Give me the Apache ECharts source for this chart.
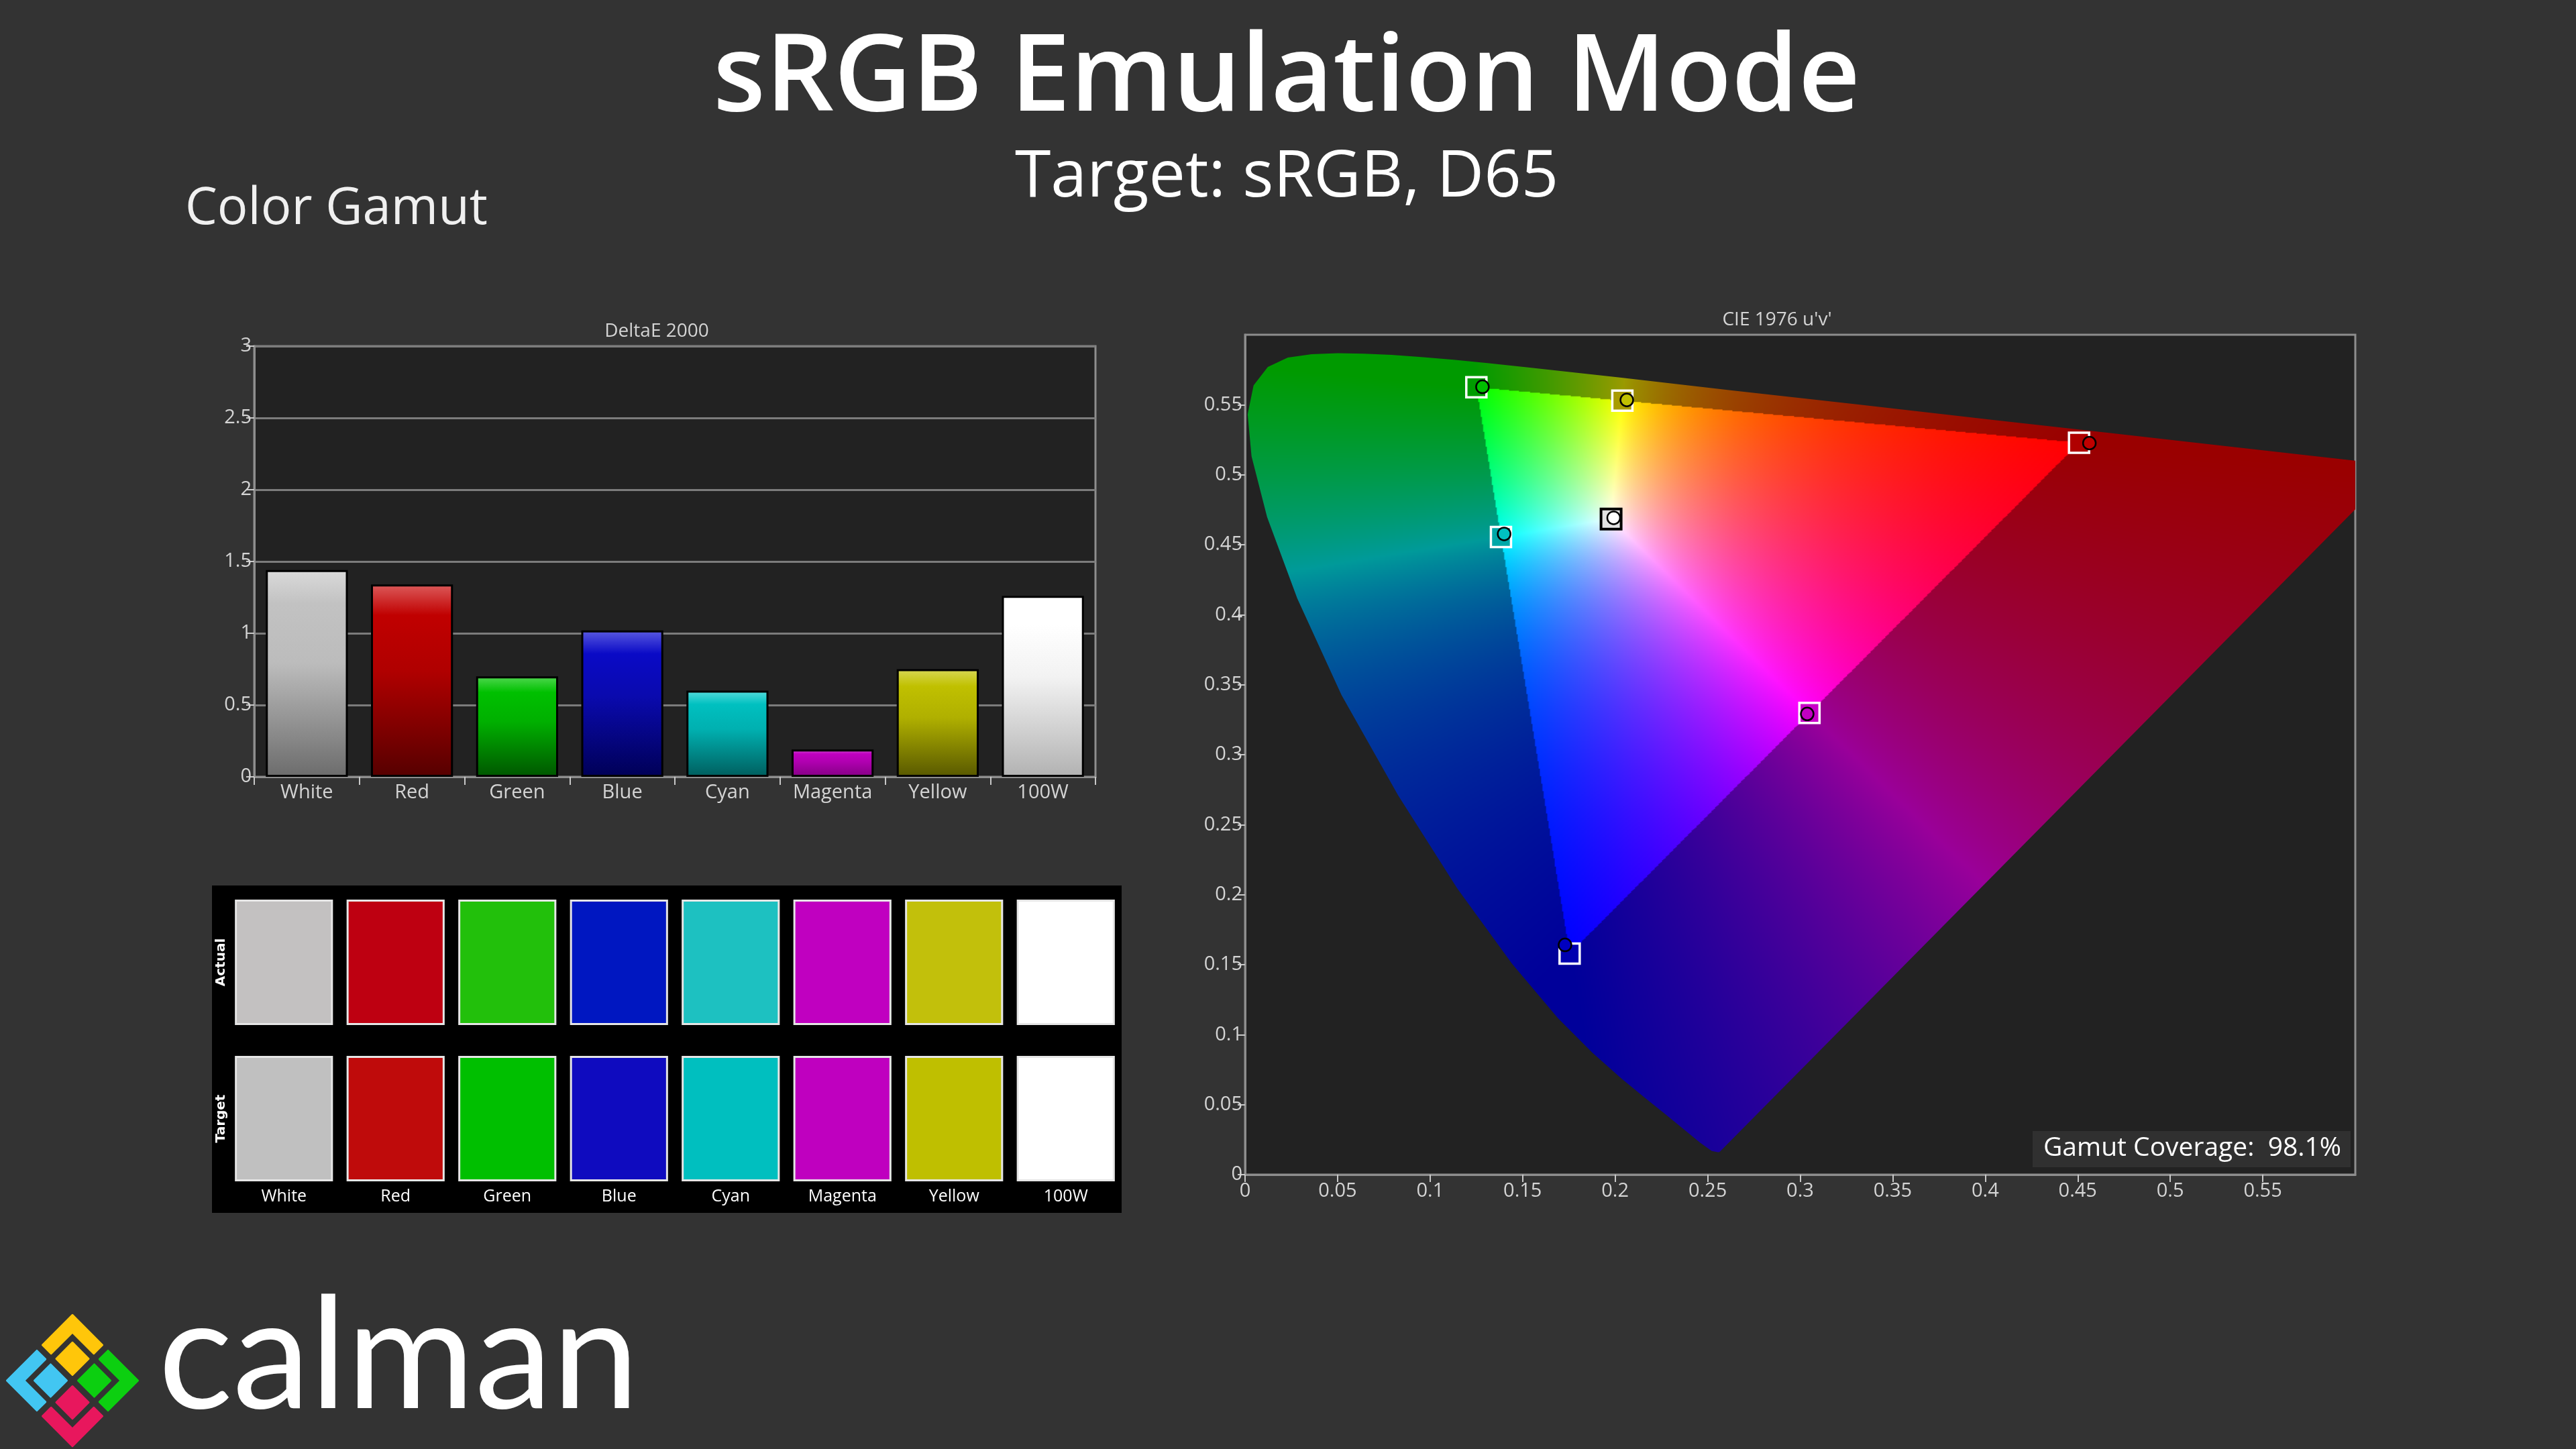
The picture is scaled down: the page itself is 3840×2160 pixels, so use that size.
<!DOCTYPE html>
<html>
<head>
<meta charset="utf-8">
<script src="https://cdn.jsdelivr.net/npm/echarts@6/dist/echarts.min.js"></script>
<style>
  html, body { margin: 0; padding: 0; background: #333333; }
  #chart { width: 3840px; height: 2160px; }
</style>
</head>
<body>
<div id="chart"></div>
<script>
// ---- data ----
const categories = ['White', 'Red', 'Green', 'Blue', 'Cyan', 'Magenta', 'Yellow', '100W'];
const deltaE = [1.44, 1.34, 0.70, 1.02, 0.60, 0.19, 0.75, 1.26];

const swatchRows = ['Target', 'Actual'];
const actualColors = ['#c3c1c1', '#be0011', '#22c00b', '#0017c1', '#1dc1c1', '#c000c0', '#c2c00b', '#ffffff'];
const targetColors = ['#c0c0c0', '#bf0b0b', '#00bf00', '#0f0bbf', '#00bfbf', '#bf00bf', '#bfbf00', '#ffffff'];

// CIE 1931 spectral locus in u'v' (380 - 700 nm), closed by the line of purples
const locusU = [0.2568, 0.2563, 0.2554, 0.2522, 0.2461, 0.2347, 0.2266, 0.2161, 0.2033, 0.1877, 0.1690,
  0.1441, 0.1147, 0.0828, 0.0521, 0.0282, 0.0119, 0.0035, 0.0014, 0.0046, 0.0123, 0.0231, 0.0360,
  0.0501, 0.0643, 0.0792, 0.0953, 0.1127, 0.1319, 0.1531, 0.2026, 0.2623, 0.3315, 0.4035, 0.4692,
  0.5203, 0.5565, 0.5830, 0.6005, 0.6234];
const locusV = [0.0166, 0.0160, 0.0160, 0.0169, 0.0226, 0.0350, 0.0437, 0.0549, 0.0688, 0.0871, 0.1119,
  0.1510, 0.2044, 0.2708, 0.3427, 0.4117, 0.4698, 0.5131, 0.5432, 0.5638, 0.5770, 0.5837, 0.5861,
  0.5868, 0.5865, 0.5856, 0.5841, 0.5821, 0.5796, 0.5766, 0.5694, 0.5604, 0.5501, 0.5393, 0.5296,
  0.5219, 0.5165, 0.5125, 0.5099, 0.5065];

// order: Red, Green, Blue, Cyan, Magenta, Yellow
const targetU = [0.4507, 0.1250, 0.1754, 0.1383, 0.3050, 0.2039];
const targetV = [0.5229, 0.5625, 0.1579, 0.4555, 0.3298, 0.5529];
const whiteTarget = [0.1978, 0.4683];
const measuredU = [0.4563, 0.1283, 0.1729, 0.1400, 0.3038, 0.2063, 0.1992];
const measuredV = [0.5226, 0.5628, 0.1641, 0.4577, 0.3291, 0.5534, 0.4692];
const measuredColors = ['#c00000', '#00c000', '#0000c0', '#00c0c0', '#c000c0', '#c0c000', '#ffffff'];
const targetFill = ['#b00000', '#009c00', '#0000b0', '#00a8a8', '#c800c8', '#a89c00'];

const gamutCoverage = 98.1;
const cieMax = 0.6;

// ---- styles ----
const barShades = [
  ['#dadada', '#c2c2c2', '#bcbcbc', '#6c6c6c'],
  ['#dc5a5a', '#c00000', '#b00000', '#560000'],
  ['#50d850', '#00c000', '#00b000', '#005600'],
  ['#5a5ae0', '#0a0ac6', '#0a0aae', '#000056'],
  ['#55dcdc', '#00c0c0', '#00b0b0', '#005e5e'],
  ['#d455d4', '#c000c0', '#b000b0', '#840084'],
  ['#d8d855', '#c0c000', '#b0b000', '#585800'],
  ['#ffffff', '#ffffff', '#f2f2f2', '#b2b2b2']
];
const labelColor = '#d4d4d4';
const axisColor = '#8e8e8e';

// colour field painted behind the horseshoe (u', v' -> sRGB, max-normalised)
const gamutCanvas = (function () {
  const n = 900;
  const cv = document.createElement('canvas');
  cv.width = n; cv.height = n;
  const ctx = cv.getContext('2d');
  const img = ctx.createImageData(n, n);
  for (let j = 0; j < n; j++) {
    const v = cieMax * (1 - (j + 0.5) / n);
    for (let i = 0; i < n; i++) {
      const u = cieMax * (i + 0.5) / n;
      const d = 6 * u - 16 * v + 12;
      const x = 9 * u / d, y = 4 * v / d;
      const X = x / y, Z = (1 - x - y) / y;
      let r = 3.2406 * X - 1.5372 - 0.4986 * Z;
      let g = -0.9689 * X + 1.8758 + 0.0415 * Z;
      let b = 0.0557 * X - 0.2040 + 1.0570 * Z;
      const inside = r >= 0 && g >= 0 && b >= 0;
      r = Math.max(r, 0); g = Math.max(g, 0); b = Math.max(b, 0);
      const m = Math.max(r, g, b) || 1;
      const k = inside ? 255 : 154;
      const o = (j * n + i) * 4;
      img.data[o] = r / m * k;
      img.data[o + 1] = g / m * k;
      img.data[o + 2] = b / m * k;
      img.data[o + 3] = 255;
    }
  }
  ctx.putImageData(img, 0, 0);
  return cv;
})();

// ---- calman logo pieces ----
const logoC = [108, 2058];
function lp(a, b) {
  return [logoC[0] + (a - b) / Math.SQRT2, logoC[1] - (a + b) / Math.SQRT2];
}
const logoParts = [];
[[1, 1, '#ffc60a'], [-1, 1, '#42c6f2'], [1, -1, '#0ccf10'], [-1, -1, '#e8175d']].forEach(function (q) {
  const sa = q[0], sb = q[1], S1 = 69, S2 = 51, c = 6, gc = 23, h = 17;
  const chev = [[S1, S1], [S1, c], [S2, c], [S2, S2], [c, S2], [c, S1]]
    .map(p => lp(p[0] * sa, p[1] * sb));
  const inner = [[gc - h, gc - h], [gc + h, gc - h], [gc + h, gc + h], [gc - h, gc + h]]
    .map(p => lp(p[0] * sa, p[1] * sb));
  logoParts.push({ type: 'polygon', shape: { points: chev }, style: { fill: q[2], stroke: q[2], lineWidth: 3, lineJoin: 'round' }, z: 10 });
  logoParts.push({ type: 'polygon', shape: { points: inner }, style: { fill: q[2], stroke: q[2], lineWidth: 3, lineJoin: 'round' }, z: 10 });
});

const chart = echarts.init(document.getElementById('chart'), null, { width: 3840, height: 2160 });

const tickLabel = function (v) { return String(Math.round(v * 100) / 100); };

const option = {
  backgroundColor: '#333333',
  animation: false,
  textStyle: { fontFamily: 'Open Sans' },
  graphic: [
    { type: 'text', x: 1918, y: 119, z: 10, style: { text: 'sRGB Emulation Mode', fill: '#ffffff', font: '600 160px "Open Sans"', textAlign: 'center', textVerticalAlign: 'middle', align: 'center', verticalAlign: 'middle' } },
    { type: 'text', x: 1918, y: 265, z: 10, style: { text: 'Target: sRGB, D65', fill: '#ffffff', font: '400 97px "Open Sans"', textAlign: 'center', textVerticalAlign: 'middle', align: 'center', verticalAlign: 'middle' } },
    { type: 'text', x: 276, y: 312, z: 10, style: { text: 'Color Gamut', fill: '#f0f0f0', font: '400 76px "Open Sans"', textAlign: 'left', textVerticalAlign: 'middle', align: 'left', verticalAlign: 'middle' } },
    { type: 'text', x: 979, y: 494, z: 10, style: { text: 'DeltaE 2000', fill: labelColor, font: '400 28px "Open Sans"', textAlign: 'center', textVerticalAlign: 'middle', align: 'center', verticalAlign: 'middle' } },
    { type: 'text', x: 2649, y: 477, z: 10, style: { text: "CIE 1976 u'v'", fill: labelColor, font: '400 28px "Open Sans"', textAlign: 'center', textVerticalAlign: 'middle', align: 'center', verticalAlign: 'middle' } },
    { type: 'rect', shape: { x: 316, y: 1320, width: 1356, height: 488 }, style: { fill: '#000000' }, z: 0 },
    { type: 'rect', shape: { x: 3030, y: 1686, width: 474, height: 54 }, style: { fill: '#303030' }, z: 10 },
    { type: 'text', x: 3046, y: 1712, z: 11, style: { text: 'Gamut Coverage:  ' + gamutCoverage.toFixed(1) + '%', fill: '#ffffff', font: '400 39px "Open Sans"', textAlign: 'left', textVerticalAlign: 'middle', align: 'left', verticalAlign: 'middle' } },
    { type: 'text', x: 236, y: 2024, z: 10, style: { text: 'calman', fill: '#ffffff', font: '400 232px "Lato"', textAlign: 'left', textVerticalAlign: 'middle', align: 'left', verticalAlign: 'middle' } }
  ].concat(logoParts),
  grid: [
    { left: 379, top: 516, width: 1254, height: 642, show: true, backgroundColor: '#222222', borderColor: axisColor, borderWidth: 3 },
    { left: 340, top: 1318, width: 1332, height: 466, show: false },
    { left: 1856, top: 499, width: 1655, height: 1252, show: true, backgroundColor: '#222222', borderColor: axisColor, borderWidth: 3 }
  ],
  xAxis: [
    {
      gridIndex: 0, type: 'category', data: categories,
      axisLine: { lineStyle: { color: axisColor, width: 3 } },
      axisTick: { show: true, alignWithLabel: false, length: 12, lineStyle: { color: '#c8c8c8', width: 2 } },
      axisLabel: { color: labelColor, fontSize: 29, margin: 9, interval: 0 }
    },
    {
      gridIndex: 1, type: 'category', data: categories,
      axisLine: { show: false }, axisTick: { show: false },
      axisLabel: { color: '#ffffff', fontSize: 25, margin: 0, verticalAlign: 'middle', interval: 0 }
    },
    {
      gridIndex: 2, type: 'value', min: 0, max: cieMax, interval: 0.05,
      axisLine: { show: true, lineStyle: { color: axisColor, width: 3 } },
      axisTick: { show: true, length: 11, lineStyle: { color: '#c8c8c8', width: 2 } },
      splitLine: { show: false },
      axisLabel: { color: labelColor, fontSize: 29, margin: 10, showMaxLabel: false, formatter: tickLabel }
    }
  ],
  yAxis: [
    {
      gridIndex: 0, type: 'value', min: 0, max: 3, interval: 0.5,
      axisLine: { show: true, lineStyle: { color: axisColor, width: 3 } },
      axisTick: { show: true, length: 12, lineStyle: { color: '#c8c8c8', width: 2 } },
      splitLine: { show: true, lineStyle: { color: '#7c7c7c', width: 3 } },
      axisLabel: { color: labelColor, fontSize: 29, margin: 4 }
    },
    {
      gridIndex: 1, type: 'category', data: swatchRows,
      axisLine: { show: false }, axisTick: { show: false },
      axisLabel: { color: '#ffffff', fontSize: 20, fontWeight: 'bold', fontFamily: 'DejaVu Sans', rotate: 90, margin: 0 }
    },
    {
      gridIndex: 2, type: 'value', min: 0, max: cieMax, interval: 0.05,
      axisLine: { show: true, lineStyle: { color: axisColor, width: 3 } },
      axisTick: { show: true, length: 11, lineStyle: { color: '#c8c8c8', width: 2 } },
      splitLine: { show: false },
      axisLabel: { color: labelColor, fontSize: 29, margin: 4, showMaxLabel: false, formatter: tickLabel }
    }
  ],
  series: [
    {
      name: 'DeltaE 2000', type: 'bar', xAxisIndex: 0, yAxisIndex: 0,
      barCategoryGap: '22%',
      itemStyle: { borderColor: '#000000', borderWidth: 3 },
      data: deltaE.map(function (v, i) {
        const s = barShades[i];
        return {
          value: v,
          itemStyle: {
            color: {
              type: 'linear', x: 0, y: 0, x2: 0, y2: 1,
              colorStops: [
                { offset: 0, color: s[0] }, { offset: 0.16, color: s[1] },
                { offset: 0.45, color: s[2] }, { offset: 1, color: s[3] }
              ]
            }
          }
        };
      })
    },
    {
      name: 'Actual', type: 'custom', xAxisIndex: 1, yAxisIndex: 1,
      data: categories.map(function (c, i) { return [i, 1]; }),
      renderItem: function (params, api) {
        const p = api.coord([api.value(0), api.value(1)]);
        const s = api.size([1, 1]);
        const w = s[0] * 0.86, h = s[1] * 0.79;
        return { type: 'rect', shape: { x: p[0] - w / 2, y: p[1] - h / 2, width: w, height: h },
          style: { fill: actualColors[params.dataIndex], stroke: '#e6e6e6', lineWidth: 3 } };
      }
    },
    {
      name: 'Target', type: 'custom', xAxisIndex: 1, yAxisIndex: 1,
      data: categories.map(function (c, i) { return [i, 0]; }),
      renderItem: function (params, api) {
        const p = api.coord([api.value(0), api.value(1)]);
        const s = api.size([1, 1]);
        const w = s[0] * 0.86, h = s[1] * 0.79;
        return { type: 'rect', shape: { x: p[0] - w / 2, y: p[1] - h / 2, width: w, height: h },
          style: { fill: targetColors[params.dataIndex], stroke: '#e6e6e6', lineWidth: 3 } };
      }
    },
    {
      name: 'Gamut', type: 'custom', xAxisIndex: 2, yAxisIndex: 2, silent: true, z: 1,
      clip: true,
      data: [[0, 0]],
      renderItem: function (params, api) {
        const a = api.coord([0, cieMax]);
        const b = api.coord([cieMax, 0]);
        const pts = locusU.map(function (u, i) { return api.coord([u, locusV[i]]); });
        return {
          type: 'image',
          style: { image: gamutCanvas, x: a[0], y: a[1], width: b[0] - a[0], height: b[1] - a[1] },
          clipPath: { type: 'polygon', shape: { points: pts } }
        };
      }
    },
    {
      name: 'Target points', type: 'scatter', xAxisIndex: 2, yAxisIndex: 2, z: 4,
      symbol: 'rect', symbolSize: 30,
      itemStyle: { borderColor: '#ffffff', borderWidth: 3.5, opacity: 1 },
      data: targetU.map(function (u, i) {
        return { value: [u, targetV[i]], itemStyle: { color: targetFill[i] } };
      })
    },
    {
      name: 'White target', type: 'scatter', xAxisIndex: 2, yAxisIndex: 2, z: 4,
      symbol: 'rect', symbolSize: 30,
      itemStyle: { color: '#e4e4e4', borderColor: '#000000', borderWidth: 4, opacity: 1 },
      data: [whiteTarget]
    },
    {
      name: 'Measured', type: 'scatter', xAxisIndex: 2, yAxisIndex: 2, z: 5,
      symbol: 'circle', symbolSize: 19,
      itemStyle: { borderColor: '#000000', borderWidth: 2.5, opacity: 1 },
      data: measuredU.map(function (u, i) {
        return { value: [u, measuredV[i]], itemStyle: { color: measuredColors[i] } };
      })
    }
  ]
};

chart.setOption(option);
</script>
</body>
</html>
